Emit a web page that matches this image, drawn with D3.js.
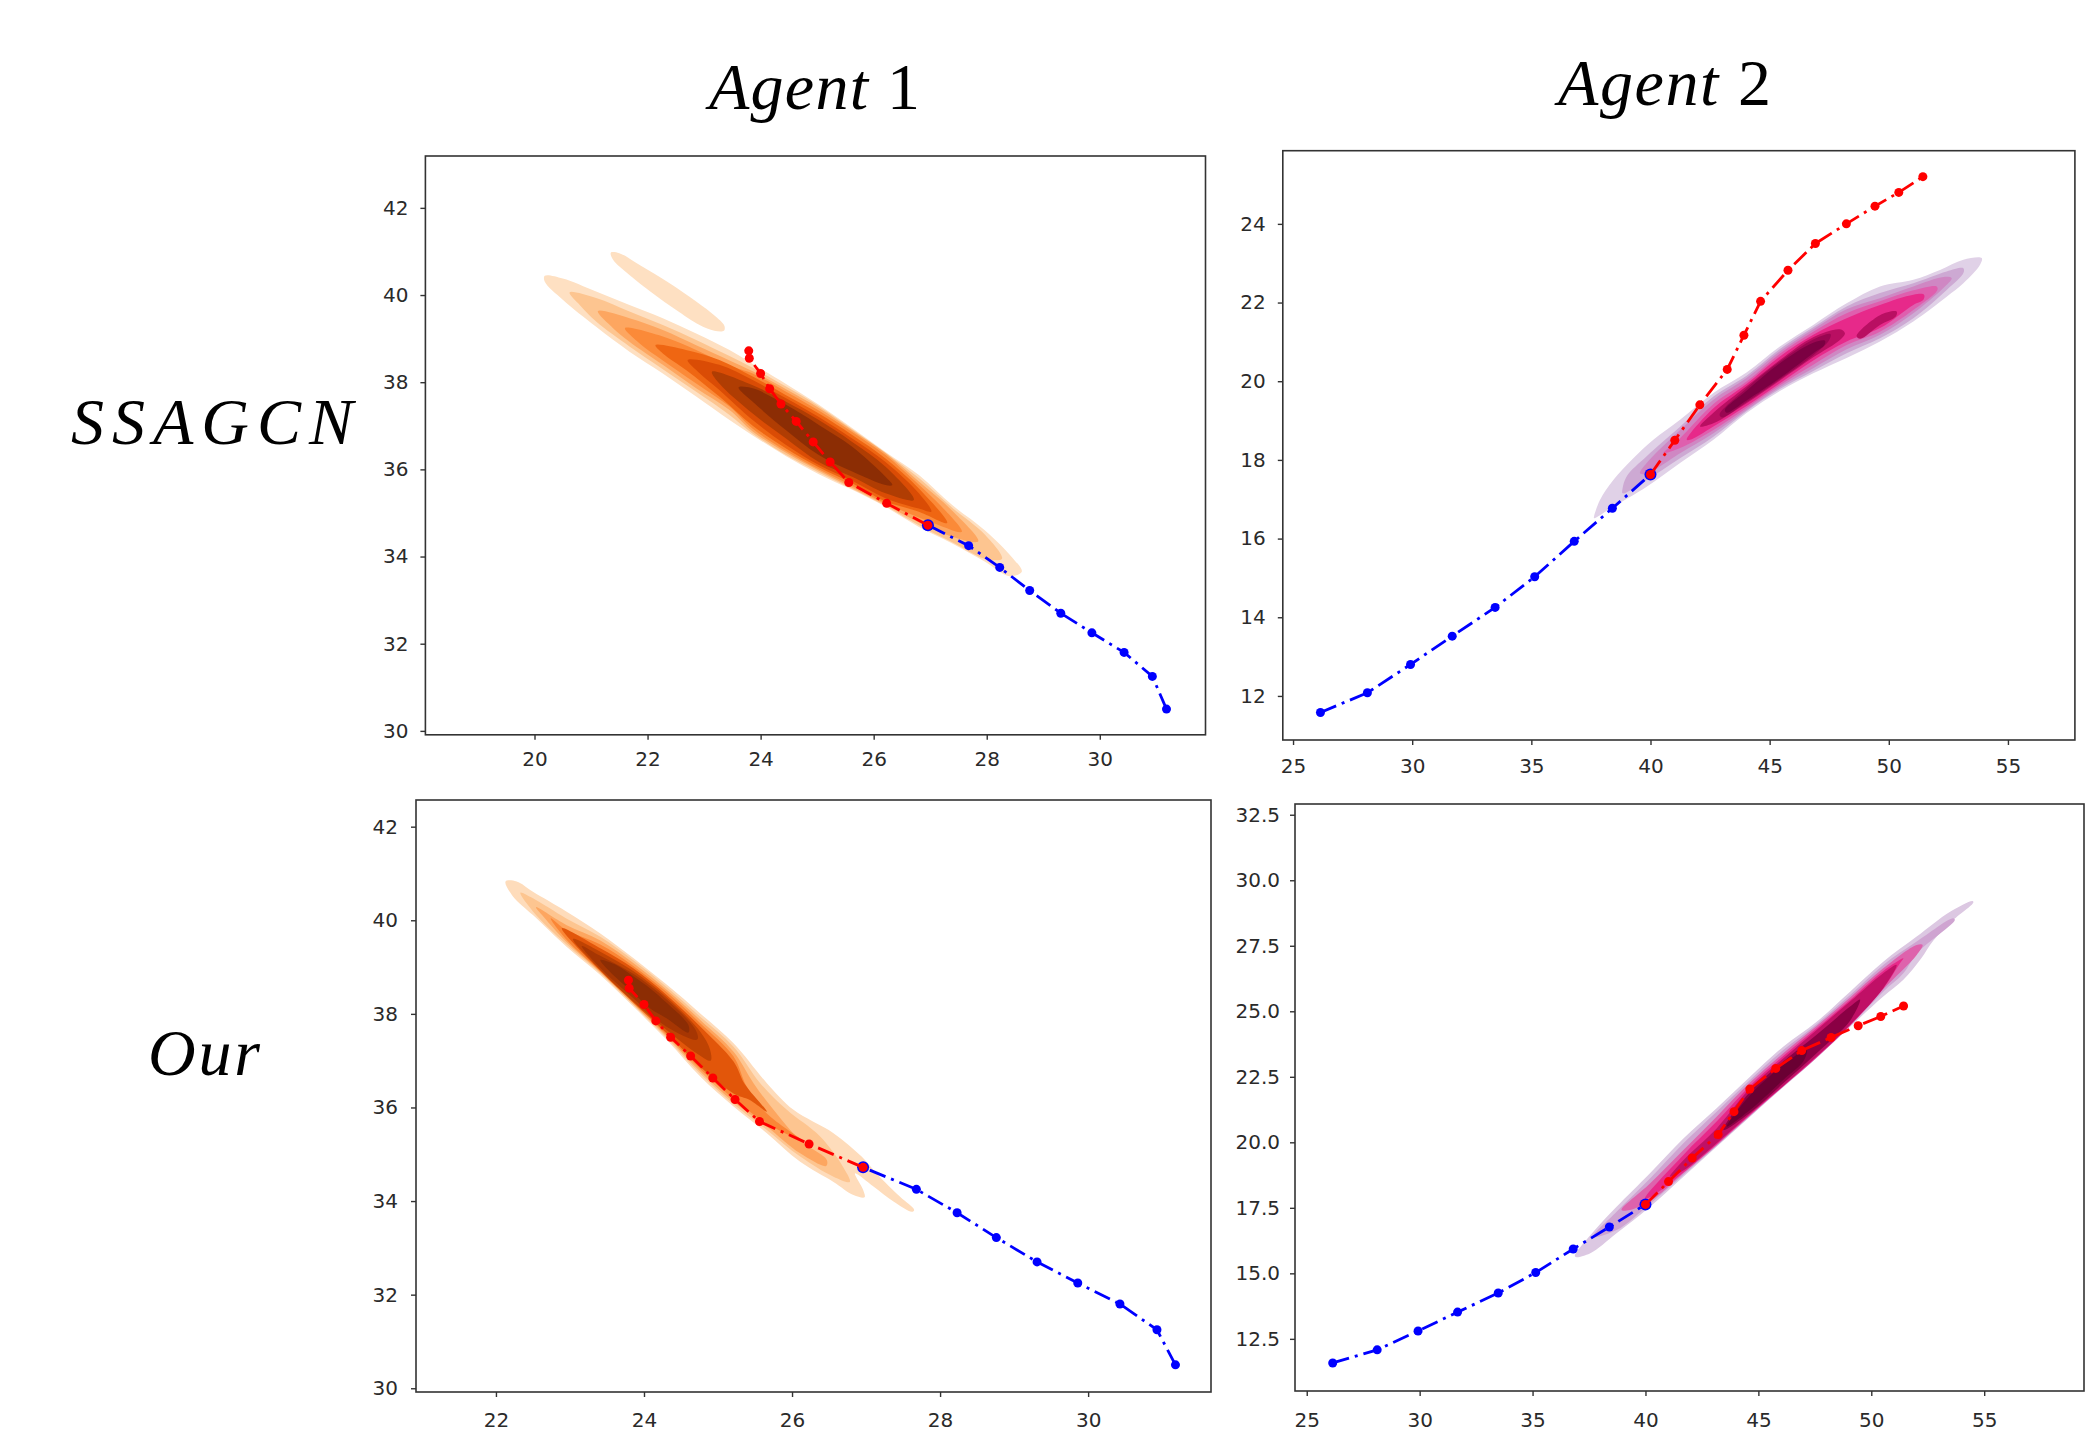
<!DOCTYPE html>
<html><head><meta charset="utf-8">
<script src="https://cdn.jsdelivr.net/npm/d3@7/dist/d3.min.js"></script>
<style>html,body{margin:0;padding:0;background:#fff}svg{display:block}
.tick text{font-family:"DejaVu Sans",sans-serif;fill:#2a2a2a}
.ttl{font-family:"Liberation Serif",serif;font-style:italic;fill:#000}
</style></head><body>
<svg id="c" width="2091" height="1434"></svg>
<script>
// ---------- trajectories (data coordinates) ----------
const agent1Observed=[[31.18,30.5],[30.93,31.25],[30.43,31.8],[29.86,32.25],[29.31,32.7],[28.76,33.22],[28.23,33.75],[27.68,34.25],[26.96,34.72]];
const agent1Future=[[26.96,34.72],[26.23,35.22],[25.56,35.7],[25.23,36.17],[24.93,36.63],[24.63,37.1],[24.36,37.5],[24.16,37.85],[24.0,38.2],[23.8,38.55],[23.79,38.72]];
const agent2Observed=[[26.15,11.58],[28.12,12.08],[29.93,12.8],[31.68,13.52],[33.48,14.25],[35.14,15.03],[36.8,15.93],[38.4,16.77],[40.0,17.63]];
const agent2Future=[[40.0,17.63],[41.02,18.5],[42.07,19.4],[43.22,20.3],[43.92,21.17],[44.62,22.03],[45.77,22.82],[46.92,23.5],[48.22,24.0],[49.42,24.45],[50.42,24.8],[51.43,25.2]];

// ---------- tick labels ----------
const ticksAx=[20,22,24,26,28,30], ticksAy=[30,32,34,36,38,40,42];
const ticksBx=[25,30,35,40,45,50,55], ticksBy=[12,14,16,18,20,22,24];
const ticksCx=[22,24,26,28,30], ticksCy=[30,32,34,36,38,40,42];
const ticksDx=[25,30,35,40,45,50,55], ticksDy=[12.5,15,17.5,20,22.5,25,27.5,30,32.5];

// ---------- density bands (data coordinates), light to dark ----------
const orangeLevels=["#fee0c2","#fdc590","#fda660","#fb8a38","#ef6612","#da4c05","#b03d03","#8c2d04"];
const orangeLevelsC=["#fedcbb","#fdc590","#fda660","#fa8636","#e2560a","#bf4303","#a63603","#8c2d04"];
const purpleLevels=["#e0d1e7","#cda9d3","#cf87c3","#df5fae","#e7298a","#b90f62","#b90f62","#9a0652","#7b0042"];
const purpleLevelsD=["#dcc8e2","#cfa4d1","#de62ac","#e7298a","#c01066","#8a0044","#6a0033"];

const densityA=[
 {level:0,pts:[[21.35,40.97],[21.5,40.96],[21.86,40.69],[22.39,40.27],[22.86,39.85],[23.21,39.5],[23.36,39.29],[23.35,39.18],[23.18,39.18],[22.92,39.31],[22.5,39.66],[22.09,40.04],[21.68,40.46],[21.39,40.81]]},
 {level:0,pts:[[20.18,40.44],[20.5,40.38],[21.09,40.08],[21.68,39.77],[22.27,39.47],[22.86,39.12],[23.45,38.74],[23.86,38.42],[24.45,37.96],[25.03,37.48],[25.62,36.95],[26.21,36.4],[26.8,35.87],[27.39,35.18],[27.97,34.6],[28.45,33.98],[28.62,33.65],[28.4,33.55],[27.97,33.88],[27.39,34.3],[26.8,34.68],[26.21,35.14],[25.62,35.53],[25.03,35.89],[24.45,36.3],[23.86,36.78],[23.45,37.13],[22.86,37.67],[22.27,38.2],[21.68,38.7],[21.09,39.27],[20.5,39.89],[20.18,40.31]]},
 {level:1,pts:[[20.62,40.06],[21.09,39.93],[21.68,39.62],[22.27,39.31],[22.86,38.97],[23.45,38.6],[23.86,38.33],[24.45,37.9],[25.03,37.45],[25.62,36.92],[26.21,36.38],[26.8,35.8],[27.39,35.12],[27.97,34.5],[28.27,33.95],[27.97,33.95],[27.39,34.33],[26.8,34.72],[26.21,35.16],[25.62,35.55],[25.03,35.93],[24.45,36.33],[23.86,36.82],[23.45,37.25],[22.86,37.78],[22.27,38.3],[21.68,38.82],[21.09,39.39],[20.8,39.77]]},
 {level:2,pts:[[21.12,39.63],[21.68,39.47],[22.27,39.2],[22.86,38.85],[23.45,38.5],[23.86,38.25],[24.45,37.84],[25.03,37.41],[25.62,36.9],[26.21,36.37],[26.8,35.72],[27.39,35.05],[27.85,34.35],[27.4,34.45],[26.8,34.78],[26.21,35.19],[25.62,35.58],[25.03,35.97],[24.45,36.38],[23.86,36.87],[23.45,37.36],[22.86,37.86],[22.27,38.4],[21.68,38.93],[21.39,39.24]]},
 {level:3,pts:[[21.6,39.24],[22.27,39.05],[22.86,38.74],[23.45,38.38],[23.86,38.2],[24.45,37.78],[25.03,37.35],[25.62,36.86],[26.21,36.33],[26.8,35.65],[27.2,35.15],[27.56,34.57],[27.0,34.8],[26.21,35.22],[25.62,35.62],[25.03,36.0],[24.45,36.42],[23.86,36.93],[23.45,37.44],[22.86,37.97],[22.27,38.5],[21.86,38.89]]},
 {level:4,pts:[[22.14,38.85],[22.68,38.74],[23.27,38.51],[23.86,38.13],[24.45,37.7],[25.03,37.28],[25.62,36.79],[26.21,36.25],[26.8,35.56],[27.3,34.77],[26.8,35.03],[26.21,35.26],[25.62,35.68],[25.03,36.05],[24.45,36.48],[23.86,37.0],[23.27,37.67],[22.68,38.28],[22.27,38.66]]},
 {level:5,pts:[[22.71,38.51],[23.27,38.4],[23.86,38.05],[24.45,37.63],[25.03,37.2],[25.62,36.71],[26.21,36.17],[26.8,35.45],[27.02,35.03],[26.8,35.1],[26.21,35.34],[25.62,35.74],[25.03,36.1],[24.45,36.56],[23.86,37.13],[23.27,37.82],[22.86,38.28]]},
 {level:6,pts:[[23.14,38.24],[23.86,37.93],[24.45,37.55],[25.03,37.13],[25.62,36.63],[26.21,36.06],[26.71,35.3],[26.21,35.45],[25.62,35.83],[25.03,36.17],[24.45,36.71],[23.86,37.28],[23.27,37.97]]},
 {level:7,pts:[[23.61,37.88],[23.86,37.86],[24.45,37.48],[25.03,37.02],[25.62,36.52],[26.21,35.83],[26.33,35.64],[26.21,35.64],[25.62,35.95],[25.03,36.33],[24.45,36.9],[23.86,37.55]]}
];
const densityB=[
 {level:0,pts:[[37.63,16.56],[37.88,16.98],[38.44,17.49],[39.28,18.04],[40.12,18.51],[41.24,19.02],[42.64,19.7],[44.03,20.22],[45.43,20.88],[46.83,21.43],[48.23,21.98],[49.63,22.41],[51.03,22.58],[52.15,22.83],[53.13,23.09],[53.9,23.13],[53.83,22.96],[53.13,22.49],[52.43,22.15],[51.03,21.52],[49.63,21.01],[48.23,20.59],[46.83,20.2],[45.43,19.75],[44.03,19.19],[42.64,18.51],[41.24,17.92],[39.84,17.32],[38.44,16.81],[37.63,16.52]]},
 {level:1,pts:[[38.83,17.28],[39.0,17.58],[39.84,18.09],[41.24,18.84],[42.64,19.61],[44.03,20.14],[45.43,20.82],[46.83,21.37],[48.23,21.9],[49.63,22.24],[51.03,22.49],[52.43,22.79],[53.13,22.87],[53.13,22.75],[52.43,22.32],[51.03,21.6],[49.63,21.09],[48.23,20.71],[46.83,20.26],[45.43,19.8],[44.03,19.24],[42.64,18.59],[41.24,18.04],[39.84,17.49],[38.83,17.15]]},
 {level:2,pts:[[39.56,17.66],[39.84,17.92],[41.24,18.76],[42.64,19.53],[44.03,20.08],[45.43,20.76],[46.83,21.32],[48.23,21.83],[49.63,22.11],[51.03,22.41],[52.29,22.65],[52.64,22.62],[52.29,22.37],[51.03,21.73],[49.63,21.18],[48.23,20.81],[46.83,20.33],[45.43,19.85],[44.03,19.27],[42.64,18.68],[41.24,18.17],[39.84,17.65]]},
 {level:3,pts:[[40.54,18.17],[41.24,18.55],[42.64,19.42],[44.03,19.99],[45.43,20.7],[46.83,21.26],[48.23,21.73],[49.63,22.03],[51.03,22.31],[52.01,22.41],[52.04,22.32],[51.03,21.81],[49.63,21.26],[48.23,20.92],[46.83,20.42],[45.43,19.9],[44.03,19.32],[42.64,18.76],[41.24,18.3]]},
 {level:4,pts:[[41.52,18.51],[42.64,19.31],[44.03,19.93],[45.43,20.63],[46.83,21.18],[48.23,21.6],[49.63,21.94],[51.03,22.2],[51.48,22.2],[51.45,22.07],[51.03,21.94],[49.63,21.35],[48.23,21.01],[46.83,20.53],[45.43,19.95],[44.03,19.37],[42.64,18.85],[41.66,18.51]]},
 {level:5,pts:[[42.08,18.85],[42.64,19.2],[44.03,19.87],[45.43,20.54],[46.83,21.12],[47.95,21.32],[48.16,21.22],[47.95,21.05],[46.83,20.61],[45.43,20.02],[44.03,19.44],[42.64,18.93]]},
 {level:6,pts:[[48.65,21.15],[49.63,21.68],[50.33,21.77],[50.3,21.65],[49.63,21.43],[48.8,21.08]]},
 {level:7,pts:[[42.9,19.15],[44.03,19.82],[45.43,20.5],[46.83,21.06],[47.55,21.2],[47.5,21.05],[46.83,20.66],[45.43,20.05],[44.03,19.47],[43.0,19.08]]},
 {level:8,pts:[[43.12,19.27],[44.03,19.76],[45.43,20.46],[46.83,20.98],[47.32,21.03],[47.3,20.92],[46.83,20.71],[45.43,20.08],[44.03,19.51],[43.2,19.2]]}
];
const densityC=[
 {level:0,pts:[[22.13,40.83],[22.28,40.83],[22.5,40.61],[22.95,40.19],[23.41,39.72],[23.86,39.19],[24.31,38.62],[24.76,38.01],[25.21,37.37],[25.66,36.52],[26.02,35.95],[26.56,35.45],[26.94,34.95],[27.14,34.59],[27.46,34.09],[27.65,33.81],[27.62,33.77],[27.37,33.99],[27.1,34.31],[26.85,34.59],[26.96,34.24],[26.98,34.08],[26.83,34.13],[26.56,34.41],[26.11,34.84],[25.66,35.45],[25.21,36.02],[24.76,36.66],[24.31,37.44],[23.86,38.15],[23.41,38.83],[22.95,39.44],[22.5,40.11],[22.23,40.51]]},
 {level:1,pts:[[22.33,40.59],[22.5,40.47],[22.95,40.04],[23.41,39.65],[23.86,39.14],[24.31,38.57],[24.76,37.94],[25.21,37.3],[25.57,36.52],[25.93,35.95],[26.38,35.38],[26.69,34.73],[26.78,34.41],[26.56,34.52],[26.11,34.95],[25.66,35.52],[25.21,36.07],[24.76,36.72],[24.31,37.48],[23.86,38.19],[23.41,38.87],[22.95,39.49],[22.5,40.19]]},
 {level:2,pts:[[22.54,40.28],[22.95,39.9],[23.41,39.57],[23.86,39.08],[24.31,38.51],[24.76,37.87],[25.21,37.19],[25.48,36.52],[25.75,35.95],[26.11,35.3],[26.47,34.88],[26.46,34.75],[26.11,35.02],[25.66,35.59],[25.21,36.12],[24.76,36.77],[24.31,37.51],[23.86,38.2],[23.41,38.89],[22.95,39.54],[22.64,40.08]]},
 {level:3,pts:[[22.74,40.04],[22.95,39.79],[23.41,39.48],[23.86,39.02],[24.31,38.46],[24.76,37.8],[25.21,37.09],[25.39,36.44],[25.66,35.87],[26.13,35.3],[25.66,35.66],[25.21,36.18],[24.76,36.82],[24.31,37.55],[23.86,38.23],[23.41,38.91],[22.95,39.59]]},
 {level:4,pts:[[22.89,39.83],[23.41,39.4],[23.86,38.97],[24.31,38.4],[24.76,37.73],[25.21,36.98],[25.36,36.5],[25.66,35.91],[25.43,36.16],[25.21,36.3],[24.76,36.87],[24.31,37.58],[23.86,38.24],[23.41,38.92]]},
 {level:5,pts:[[23.04,39.6],[23.41,39.33],[23.86,38.91],[24.31,38.35],[24.76,37.62],[24.89,37.25],[24.9,37.0],[24.71,37.16],[24.31,37.65],[23.86,38.26],[23.41,38.94]]},
 {level:6,pts:[[23.16,39.45],[23.41,39.24],[23.86,38.85],[24.31,38.3],[24.7,37.65],[24.72,37.45],[24.31,37.72],[23.86,38.33],[23.41,38.98]]},
 {level:7,pts:[[23.41,39.15],[23.63,39.04],[23.86,38.8],[24.08,38.55],[24.31,38.23],[24.6,37.76],[24.6,37.6],[24.31,37.9],[24.08,38.12],[23.86,38.44],[23.54,38.9]]}
];
const densityD=[
 {level:0,pts:[[36.88,15.64],[37.76,16.65],[38.72,17.54],[40.2,18.82],[41.68,20.15],[43.15,21.3],[44.63,22.5],[46.1,23.65],[47.58,24.6],[49.06,25.75],[50.53,26.89],[52.01,27.85],[53.49,28.8],[54.49,29.21],[54.52,29.15],[53.63,28.48],[52.75,27.7],[52.2,27.0],[51.42,26.2],[50.53,25.56],[49.06,24.41],[47.58,23.22],[46.1,22.1],[44.63,20.98],[43.15,19.83],[41.68,18.69],[40.2,17.54],[38.72,16.53],[37.54,15.76]]},
 {level:1,pts:[[37.69,16.4],[38.72,17.35],[40.2,18.62],[41.68,19.96],[43.15,21.17],[44.63,22.38],[46.1,23.52],[47.58,24.51],[49.06,25.62],[50.53,26.77],[52.01,27.66],[53.63,28.55],[53.7,28.48],[52.01,27.2],[51.42,26.45],[50.53,25.75],[49.06,24.44],[47.58,23.23],[46.1,22.12],[44.63,20.99],[43.15,19.86],[41.68,18.75],[40.2,17.65],[38.72,16.65]]},
 {level:2,pts:[[38.94,17.42],[40.2,18.43],[41.68,19.71],[43.15,20.98],[44.63,22.28],[46.1,23.4],[47.58,24.44],[49.06,25.53],[50.53,26.64],[52.01,27.53],[52.27,27.53],[52.01,27.15],[50.53,25.84],[49.06,24.45],[47.58,23.24],[46.1,22.13],[44.63,21.02],[43.15,19.89],[41.68,18.82],[40.2,17.75],[39.31,17.42]]},
 {level:3,pts:[[39.98,17.86],[41.68,19.52],[43.15,20.79],[44.63,22.16],[46.1,23.29],[47.58,24.35],[49.06,25.43],[50.53,26.54],[51.42,27.02],[51.27,26.83],[50.53,25.87],[49.06,24.46],[47.58,23.25],[46.1,22.14],[44.63,21.04],[43.15,19.92],[41.68,18.85],[40.2,17.9]]},
 {level:4,pts:[[41.08,18.69],[41.68,19.32],[43.15,20.53],[44.63,22.06],[46.1,23.2],[47.58,24.29],[49.06,25.37],[50.53,26.45],[51.12,26.77],[50.53,25.88],[49.06,24.48],[47.58,23.27],[46.1,22.15],[44.63,21.08],[43.15,19.96],[41.68,18.92]]},
 {level:5,pts:[[43.45,20.47],[44.63,21.93],[46.1,23.08],[47.58,24.1],[49.06,25.18],[49.5,25.45],[49.06,24.64],[47.58,23.4],[46.1,22.25],[44.63,21.13]]},
 {level:6,pts:[[43.6,20.6],[44.63,21.8],[46.1,22.95],[47.14,23.55],[47.0,23.1],[46.1,22.38],[44.63,21.23]]}
];

// ---------- titles ----------
const columnTitles=[{t:"Agent",n:"1",x:709,w:211,y:109},{t:"Agent",n:"2",x:1558,w:213,y:105}];
const rowTitles=[{t:"SSAGCN",x:71,w:282,y:444},{t:"Our",x:148,w:112,y:1075}];

// ---------- panels: layout ----------
const panels=[
 {box:[425.4,1205.5,156,734.8],xd:[18.07,31.87],yd:[29.91,43.19],xt:ticksAx,yt:ticksAy,band:densityA,col:orangeLevels,obs:agent1Observed,fut:agent1Future,xp:12,yp:12},
 {box:[1282.8,2074.9,150.7,740],xd:[24.57,57.81],yd:[10.88,25.86],xt:ticksBx,yt:ticksBy,band:densityB,col:purpleLevels,obs:agent2Observed,fut:agent2Future,xp:14,yp:12},
 {box:[416,1211,800,1392],xd:[20.92,31.66],yd:[29.92,42.57],xt:ticksCx,yt:ticksCy,band:densityC,col:orangeLevelsC,obs:agent1Observed,fut:agent1Future,xp:16,yp:13},
 {box:[1295,2084,804,1391],xd:[24.48,59.42],yd:[10.51,32.91],xt:ticksDx,yt:ticksDy,band:densityD,col:purpleLevelsD,obs:agent2Observed,fut:agent2Future,fmt:".1f",xp:17,yp:10}
];

const svg=d3.select("#c");
svg.append("rect").attr("width",2091).attr("height",1434).attr("fill","#fff");

panels.forEach(p=>{
 const [l,r,t,b]=p.box;
 const x=d3.scaleLinear().domain(p.xd).range([l,r]);
 const y=d3.scaleLinear().domain(p.yd).range([b,t]);
 const g=svg.append("g");
 const contour=d3.line().x(d=>x(d[0])).y(d=>y(d[1])).curve(d3.curveCatmullRomClosed.alpha(0.5));
 g.selectAll("path.band").data(p.band).join("path").attr("class","band")
  .attr("d",d=>contour(d.pts)).attr("fill",d=>p.col[d.level]).attr("stroke","none");

 const traj=d3.line().x(d=>x(d[0])).y(d=>y(d[1]));
 const series=[{pts:p.obs,c:"#0000ff",r:4.5},{pts:p.fut,c:"#ff0000",r:4.5}];
 series.forEach((s,i)=>{
  g.append("path").attr("d",traj(s.pts)).attr("fill","none").attr("stroke",s.c)
   .attr("stroke-width",2.8).attr("stroke-dasharray","17,6,3,6");
  g.selectAll("circle.s"+i).data(s.pts).join("circle").attr("class","s"+i)
   .attr("cx",d=>x(d[0])).attr("cy",d=>y(d[1])).attr("r",(d,j)=>(i===0&&j===s.pts.length-1)?6:s.r).attr("fill",s.c);
 });

 const ax=d3.axisBottom(x).tickValues(p.xt).tickSize(5).tickPadding(p.xp);
 const ay=d3.axisLeft(y).tickValues(p.yt).tickSize(5).tickPadding(p.yp);
 if(p.fmt) ay.tickFormat(d3.format(p.fmt));
 [g.append("g").attr("transform",`translate(0,${b})`).call(ax),
  g.append("g").attr("transform",`translate(${l},0)`).call(ay)].forEach(a=>{
   a.select(".domain").remove();
   a.selectAll(".tick line").attr("stroke","#333").attr("stroke-width",1.4);
   a.selectAll(".tick text").attr("font-size",20);
 });
 g.append("rect").attr("x",l).attr("y",t).attr("width",r-l).attr("height",b-t)
  .attr("fill","none").attr("stroke","#333").attr("stroke-width",1.6);
});

function title(d){
 const el=svg.append("text").attr("class","ttl").attr("x",d.x).attr("y",d.y)
  .attr("font-size",66).attr("textLength",d.w).attr("lengthAdjust","spacing");
 el.append("tspan").text(d.t);
 if(d.n) el.append("tspan").attr("font-style","normal").text(" "+d.n);
}
columnTitles.forEach(title); rowTitles.forEach(title);
</script></body></html>
